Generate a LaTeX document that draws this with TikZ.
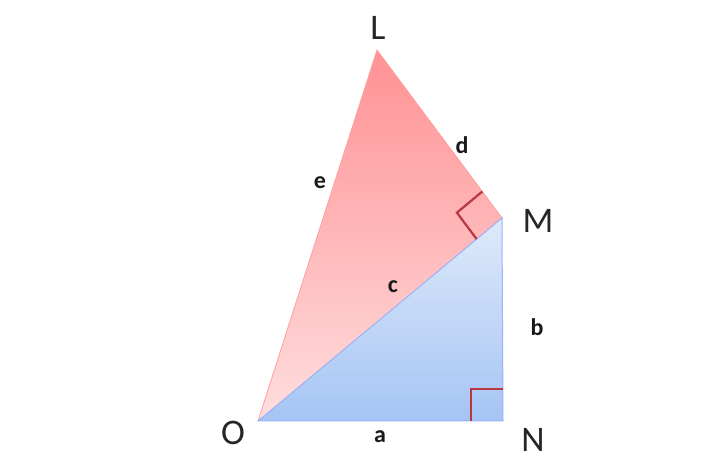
\documentclass[tikz,border=0pt]{standalone}
\usepackage{fontspec}
\setmainfont{Carlito}
\usetikzlibrary{calc}
\definecolor{pinkdeep}{RGB}{255,145,148}
\definecolor{pinklight}{RGB}{255,222,222}
\definecolor{bluetop}{RGB}{222,234,250}
\definecolor{bluebot}{RGB}{165,196,244}
\definecolor{anglered}{RGB}{185,55,65}
\tikzset{
  vertex/.style={font=\fontsize{36}{40}\selectfont, text=black!85},
  side/.style={font=\fontsize{24}{28}\selectfont\bfseries, text=black!90},
  rightangle/.style={draw=anglered, line width=2.2pt}
}

\begin{document}
\begin{tikzpicture}[x=1pt, y=-1pt]
  \useasboundingbox (0,0) rectangle (721,462);
  % vertices
  \coordinate (O) at (258,421);
  \coordinate (N) at (503,421);
  \coordinate (M) at (502,218);
  \coordinate (L) at (377,50);
  % triangles
  \shade[shading angle=-35, top color=pinkdeep, bottom color=pinklight]
    (O) -- (L) -- (M) -- cycle;
  \draw[pinkdeep!80!red!70, line width=0.8pt] (O) -- (L) -- (M);
  \shade[top color=bluetop, bottom color=bluebot] (O) -- (M) -- (N) -- cycle;
  \draw[bluebot!80!blue!80, line width=1pt] (O) -- (M) -- (N) -- cycle;
  % right angles
  \draw[rightangle] (471,421) -- (471,389) -- (503,389);
  \coordinate (ML) at ($(M)!33pt!(L)$);
  \coordinate (MO) at ($(M)!33pt!(O)$);
  \draw[rightangle] (ML) -- ($(ML)+(MO)-(M)$) -- (MO);
  % labels
  \node[vertex] (lblL) at (378,28) {L};
  \node[vertex] (lblM) at (538,221) {M};
  \node[vertex] (lblN) at (533,440) {N};
  \node[vertex] (lblO) at (233,433) {O};
  \node[side] (lbla) at (380,437) {a};
  \node[side] (lblb) at (537,327) {b};
  \node[side] (lblc) at (393,287) {c};
  \node[side] (lbld) at (462,145) {d};
  \node[side] (lble) at (320,183) {e};
\end{tikzpicture}
\end{document}
